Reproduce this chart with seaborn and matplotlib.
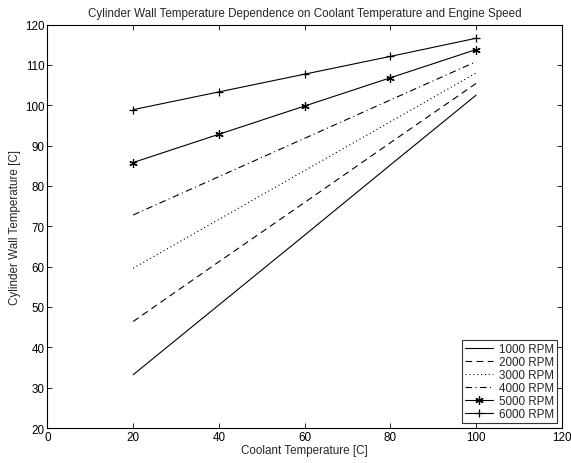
import matplotlib
matplotlib.use("Agg")
import matplotlib.pyplot as plt
import seaborn as sns
import pandas as pd

coolant = [20, 40, 60, 80, 100]
rpm_labels = ["1000 RPM", "2000 RPM", "3000 RPM", "4000 RPM", "5000 RPM", "6000 RPM"]
t1000 = [33.2, 50.5, 67.8, 85.2, 102.5]
t2000 = [46.4, 61.2, 75.9, 90.7, 105.4]
t3000 = [59.6, 71.7, 83.8, 95.9, 108.0]
t4000 = [72.8, 82.3, 91.8, 101.3, 110.8]
t5000 = [85.8, 92.8, 99.8, 106.8, 113.8]
t6000 = [98.9, 103.3, 107.7, 112.1, 116.6]
series = [t1000, t2000, t3000, t4000, t5000, t6000]

sns.set_theme(style="white")
plt.rcParams['font.family'] = ['Liberation Sans', 'DejaVu Sans']

styles = [
    dict(linestyle='-', marker=None),
    dict(linestyle=(0, (6, 4)), marker=None),
    dict(linestyle=(0, (1, 2.5)), marker=None),
    dict(linestyle=(0, (6, 3, 1, 3)), marker=None),
    dict(linestyle='-', marker=(6, 2, 0)),
    dict(linestyle='-', marker='+'),
]

FS = 8.4
fig = plt.figure(figsize=(5.71, 4.64), dpi=100)
ax = fig.add_axes([0.083, 0.0754, 0.901, 0.8696])

for lab, vals, st in zip(rpm_labels, series, styles):
    df = pd.DataFrame({"x": coolant, "y": vals})
    sns.lineplot(data=df, x="x", y="y", ax=ax, color='black', linewidth=0.8,
                 linestyle=st['linestyle'], marker=st['marker'], markersize=6,
                 markeredgewidth=0.9, markeredgecolor='black', label=lab)

ax.set_xlim(0, 120)
ax.set_ylim(20, 120)
ax.set_xticks(range(0, 121, 20))
ax.set_yticks(range(20, 121, 10))
ax.tick_params(direction='in', length=3.5, width=0.6, labelsize=FS, top=True, right=True,
               bottom=True, left=True, colors='black', pad=2)
for s in ax.spines.values():
    s.set_linewidth(0.8)
    s.set_color('black')
ax.set_xlabel("Coolant Temperature [C]", fontsize=FS, labelpad=1)
ax.set_ylabel("Cylinder Wall Temperature [C]", fontsize=FS, labelpad=3)
ax.set_title("Cylinder Wall Temperature Dependence on Coolant Temperature and Engine Speed",
             fontsize=FS, pad=6)
leg = ax.legend(loc='lower right', fontsize=FS, frameon=True, fancybox=False,
                edgecolor='black', borderpad=0.25, labelspacing=0.1, handlelength=2.4,
                handletextpad=0.5, borderaxespad=0.4)
leg.get_frame().set_linewidth(0.8)

fig.savefig("out.png", dpi=100)
